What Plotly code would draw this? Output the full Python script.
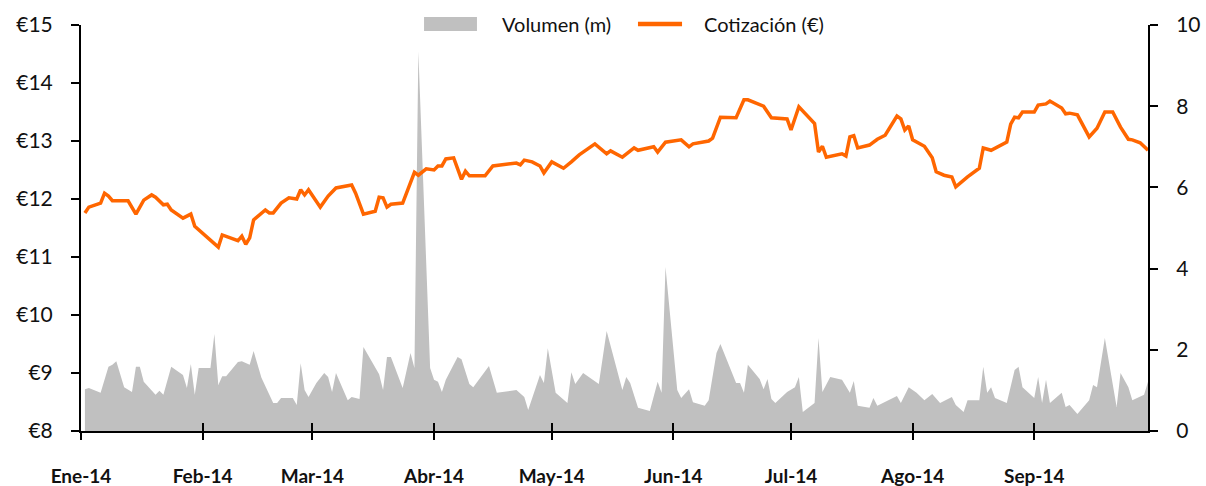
import plotly.graph_objects as go

# Cotización (€)
price_dates = [
    "2014-01-02","2014-01-03","2014-01-06","2014-01-07","2014-01-08","2014-01-09","2014-01-13","2014-01-14",
    "2014-01-15","2014-01-17","2014-01-19","2014-01-20","2014-01-22","2014-01-23","2014-01-24","2014-01-27",
    "2014-01-29","2014-01-30","2014-02-02","2014-02-05","2014-02-06","2014-02-10","2014-02-11","2014-02-12",
    "2014-02-13","2014-02-14","2014-02-17","2014-02-18","2014-02-19","2014-02-21","2014-02-23","2014-02-25",
    "2014-02-26","2014-02-27","2014-02-28","2014-03-03","2014-03-05","2014-03-07","2014-03-11","2014-03-12",
    "2014-03-14","2014-03-17","2014-03-18","2014-03-19","2014-03-20","2014-03-21","2014-03-24","2014-03-27",
    "2014-03-28","2014-03-30","2014-04-01","2014-04-02","2014-04-03","2014-04-04","2014-04-06","2014-04-08",
    "2014-04-09","2014-04-10","2014-04-14","2014-04-16","2014-04-22","2014-04-23","2014-04-24","2014-04-26",
    "2014-04-28","2014-04-29","2014-05-01","2014-05-04","2014-05-06","2014-05-08","2014-05-12","2014-05-15",
    "2014-05-16","2014-05-19","2014-05-22","2014-05-23","2014-05-27","2014-05-28","2014-05-30","2014-06-03",
    "2014-06-05","2014-06-06","2014-06-10","2014-06-11","2014-06-13","2014-06-16","2014-06-17","2014-06-19",
    "2014-06-20","2014-06-24","2014-06-26","2014-06-30","2014-07-01","2014-07-03","2014-07-07","2014-07-08",
    "2014-07-09","2014-07-10","2014-07-14","2014-07-15","2014-07-16","2014-07-17","2014-07-18","2014-07-21",
    "2014-07-23","2014-07-25","2014-07-28","2014-07-29","2014-07-30","2014-07-31","2014-08-01","2014-08-04",
    "2014-08-06","2014-08-07","2014-08-09","2014-08-11","2014-08-12","2014-08-15","2014-08-18","2014-08-19",
    "2014-08-21","2014-08-25","2014-08-26","2014-08-27","2014-08-28","2014-08-29","2014-09-01","2014-09-02",
    "2014-09-04","2014-09-05","2014-09-08","2014-09-09","2014-09-10","2014-09-12","2014-09-15","2014-09-17",
    "2014-09-19","2014-09-21","2014-09-23","2014-09-25","2014-09-26","2014-09-28","2014-09-30",
]
price_values = [
    11.76,11.86,11.93,12.10,12.05,11.97,11.97,11.86,
    11.74,11.98,12.07,12.03,11.90,11.91,11.81,11.67,
    11.74,11.53,11.34,11.17,11.38,11.28,11.36,11.22,
    11.33,11.64,11.81,11.76,11.76,11.93,12.02,12.00,
    12.16,12.07,12.16,11.86,12.05,12.19,12.24,12.10,
    11.74,11.79,12.03,12.02,11.86,11.91,11.93,12.46,
    12.41,12.52,12.50,12.57,12.57,12.69,12.71,12.34,
    12.48,12.40,12.40,12.57,12.62,12.59,12.67,12.64,
    12.57,12.45,12.64,12.53,12.64,12.76,12.95,12.78,
    12.83,12.72,12.88,12.84,12.90,12.81,12.98,13.02,
    12.90,12.95,13.00,13.05,13.41,13.41,13.40,13.71,
    13.71,13.60,13.40,13.38,13.19,13.59,13.30,12.81,
    12.91,12.72,12.78,12.74,13.07,13.09,12.88,12.93,
    13.03,13.10,13.43,13.38,13.19,13.26,13.02,12.91,
    12.71,12.47,12.41,12.38,12.21,12.38,12.53,12.88,
    12.84,12.98,13.29,13.41,13.40,13.50,13.50,13.62,
    13.64,13.69,13.57,13.47,13.48,13.45,13.07,13.22,
    13.50,13.50,13.24,13.03,13.02,12.97,12.84,
]

# Volumen (m)
volume_dates = [
    "2014-01-02","2014-01-03","2014-01-06","2014-01-08","2014-01-09","2014-01-10","2014-01-12","2014-01-14",
    "2014-01-15","2014-01-16","2014-01-17","2014-01-20","2014-01-21","2014-01-22","2014-01-24","2014-01-27",
    "2014-01-28","2014-01-29","2014-01-30","2014-01-31","2014-02-03","2014-02-04","2014-02-05","2014-02-06",
    "2014-02-07","2014-02-10","2014-02-11","2014-02-13","2014-02-14","2014-02-16","2014-02-19","2014-02-20",
    "2014-02-21","2014-02-24","2014-02-25","2014-02-26","2014-02-27","2014-02-28","2014-03-02","2014-03-04",
    "2014-03-05","2014-03-06","2014-03-07","2014-03-10","2014-03-11","2014-03-13","2014-03-14","2014-03-18",
    "2014-03-19","2014-03-20","2014-03-21","2014-03-24","2014-03-26","2014-03-27","2014-03-28","2014-03-31",
    "2014-04-01","2014-04-02","2014-04-03","2014-04-04","2014-04-07","2014-04-08","2014-04-10","2014-04-11",
    "2014-04-15","2014-04-17","2014-04-22","2014-04-24","2014-04-25","2014-04-28","2014-04-29","2014-04-30",
    "2014-05-02","2014-05-05","2014-05-06","2014-05-07","2014-05-09","2014-05-13","2014-05-15","2014-05-19",
    "2014-05-20","2014-05-21","2014-05-23","2014-05-26","2014-05-28","2014-05-29","2014-05-30","2014-06-02",
    "2014-06-03","2014-06-05","2014-06-06","2014-06-09","2014-06-10","2014-06-12","2014-06-13","2014-06-17",
    "2014-06-18","2014-06-19","2014-06-20","2014-06-23","2014-06-24","2014-06-25","2014-06-26","2014-06-27",
    "2014-06-30","2014-07-02","2014-07-03","2014-07-04","2014-07-07","2014-07-08","2014-07-09","2014-07-11",
    "2014-07-14","2014-07-16","2014-07-17","2014-07-18","2014-07-21","2014-07-22","2014-07-23","2014-07-28",
    "2014-07-29","2014-07-31","2014-08-02","2014-08-04","2014-08-06","2014-08-08","2014-08-11","2014-08-12",
    "2014-08-14","2014-08-15","2014-08-18","2014-08-19","2014-08-20","2014-08-21","2014-08-22","2014-08-25",
    "2014-08-27","2014-08-28","2014-08-29","2014-09-01","2014-09-02","2014-09-03","2014-09-04","2014-09-05",
    "2014-09-08","2014-09-09","2014-09-10","2014-09-12","2014-09-15","2014-09-16","2014-09-17","2014-09-19",
    "2014-09-22","2014-09-23","2014-09-25","2014-09-26","2014-09-29","2014-09-30",
]
volume_values = [
    1.03,1.06,0.94,1.58,1.63,1.72,1.08,0.96,
    1.58,1.58,1.21,0.89,0.99,0.89,1.58,1.38,
    1.06,1.65,0.89,1.55,1.55,2.39,1.13,1.35,
    1.35,1.70,1.72,1.63,1.97,1.31,0.69,0.69,
    0.81,0.81,0.64,1.67,1.01,0.84,1.18,1.43,
    1.33,0.96,1.43,0.76,0.84,0.79,2.07,1.40,
    1.01,1.82,1.82,1.06,1.92,1.55,9.35,1.55,
    1.26,1.21,0.96,1.26,1.82,1.77,1.16,1.08,
    1.60,0.94,1.01,0.84,0.52,1.38,1.18,2.04,
    0.94,0.69,1.45,1.16,1.43,1.16,2.46,1.01,
    1.33,1.18,0.57,0.49,1.21,0.94,4.04,1.01,
    0.81,1.03,0.71,0.62,0.76,1.92,2.14,1.18,
    1.18,0.94,1.63,1.28,1.03,1.28,0.79,0.69,
    0.96,1.08,1.33,0.47,0.69,2.29,0.96,1.33,
    1.26,0.94,1.23,0.62,0.57,0.81,0.62,0.86,
    0.69,1.08,0.94,0.76,0.91,0.69,0.84,0.64,
    0.47,0.76,0.76,1.58,0.94,1.08,0.81,0.69,
    1.50,1.58,1.08,0.81,1.33,0.69,1.26,0.69,
    0.94,0.59,0.64,0.42,0.76,1.13,1.08,2.29,
    0.59,1.43,1.08,0.76,0.89,1.21,
]

month_ticks = ["2014-01-01","2014-02-01","2014-03-01","2014-04-01","2014-05-01",
               "2014-06-01","2014-07-01","2014-08-01","2014-09-01"]
month_labels = ["Ene-14","Feb-14","Mar-14","Abr-14","May-14","Jun-14","Jul-14","Ago-14","Sep-14"]
price_ticks = [8, 9, 10, 11, 12, 13, 14, 15]
price_labels = ["€8", "€9", "€10", "€11", "€12", "€13", "€14", "€15"]
volume_ticks = [0, 2, 4, 6, 8, 10]

FONT = "Lato, Calibri, 'Open Sans', sans-serif"
TEXT = "#111111"
GRAY = "#C0C0C0"
ORANGE = "#FF6600"
x_range = ["2014-01-01", "2014-09-30"]

fig = go.Figure()
fig.add_trace(go.Scatter(
    x=volume_dates, y=volume_values, name="Volumen (m)", mode="lines",
    line=dict(width=0, color=GRAY), fill="tozeroy", fillcolor=GRAY,
    yaxis="y", xaxis="x", showlegend=False,
))
fig.add_trace(go.Scatter(
    x=price_dates, y=price_values, name="Cotización (€)", mode="lines",
    line=dict(width=3.5, color=ORANGE),
    yaxis="y2", xaxis="x", showlegend=False,
))
# invisible helper trace so the inside ticks on xaxis2 are drawn
fig.add_trace(go.Scatter(x=[x_range[0]], y=[0], xaxis="x2", yaxis="y",
                         mode="markers", marker=dict(opacity=0), showlegend=False, hoverinfo="skip"))

# legend drawn as swatches + text above the plot area
legend_y = 1.0025
fig.add_shape(type="rect", xref="paper", yref="paper", x0=0.3215, x1=0.3711, y0=0.985, y1=1.0197,
              fillcolor=GRAY, line=dict(width=0), layer="above")
fig.add_shape(type="line", xref="paper", yref="paper", x0=0.522, x1=0.5633, y0=legend_y, y1=legend_y,
              line=dict(color=ORANGE, width=4.5), layer="above")
fig.add_annotation(xref="paper", yref="paper", x=0.3927, y=legend_y, xanchor="left", yanchor="middle",
                   text="Volumen (m)", showarrow=False, font=dict(size=20, family=FONT, color=TEXT))
fig.add_annotation(xref="paper", yref="paper", x=0.582, y=legend_y, xanchor="left", yanchor="middle",
                   text="Cotización (€)", showarrow=False, font=dict(size=20, family=FONT, color=TEXT))

fig.update_layout(
    width=1206, height=486,
    margin=dict(l=81, r=58, t=25, b=55, autoexpand=False),
    paper_bgcolor="white", plot_bgcolor="white",
    font=dict(family=FONT, color=TEXT),
    showlegend=False,
    xaxis=dict(
        type="date", range=x_range, tickmode="array", tickvals=month_ticks, ticktext=month_labels,
        showgrid=False, zeroline=False, showline=True, linecolor="black", linewidth=2,
        ticks="outside", ticklen=7, tickwidth=2, tickcolor="black",
        tickfont=dict(size=19, family=FONT, color=TEXT, weight="bold"),
        ticklabelstandoff=20, automargin=False,
    ),
    xaxis2=dict(
        type="date", range=x_range, overlaying="x", matches="x", anchor="y",
        tickmode="array", tickvals=month_ticks, showticklabels=False,
        showgrid=False, zeroline=False, showline=False,
        ticks="inside", ticklen=8, tickwidth=2, tickcolor="black",
    ),
    yaxis=dict(
        range=[0, 10], tickmode="array", tickvals=volume_ticks, side="right",
        showgrid=False, zeroline=False, showline=True, linecolor="black", linewidth=2,
        ticks="outside", ticklen=8, tickwidth=2, tickcolor="black",
        tickfont=dict(size=21, family=FONT, color=TEXT),
        ticklabelstandoff=14, automargin=False,
    ),
    yaxis2=dict(
        range=[8, 15], tickmode="array", tickvals=price_ticks, ticktext=price_labels,
        side="left", overlaying="y",
        showgrid=False, zeroline=False, showline=True, linecolor="black", linewidth=2,
        ticks="outside", ticklen=8, tickwidth=2, tickcolor="black",
        tickfont=dict(size=21, family=FONT, color=TEXT),
        ticklabelstandoff=14, automargin=False,
    ),
)

fig.write_html("out.html", config={"displayModeBar": False},
               post_script="document.body.style.margin='0';document.body.style.overflow='hidden';")
